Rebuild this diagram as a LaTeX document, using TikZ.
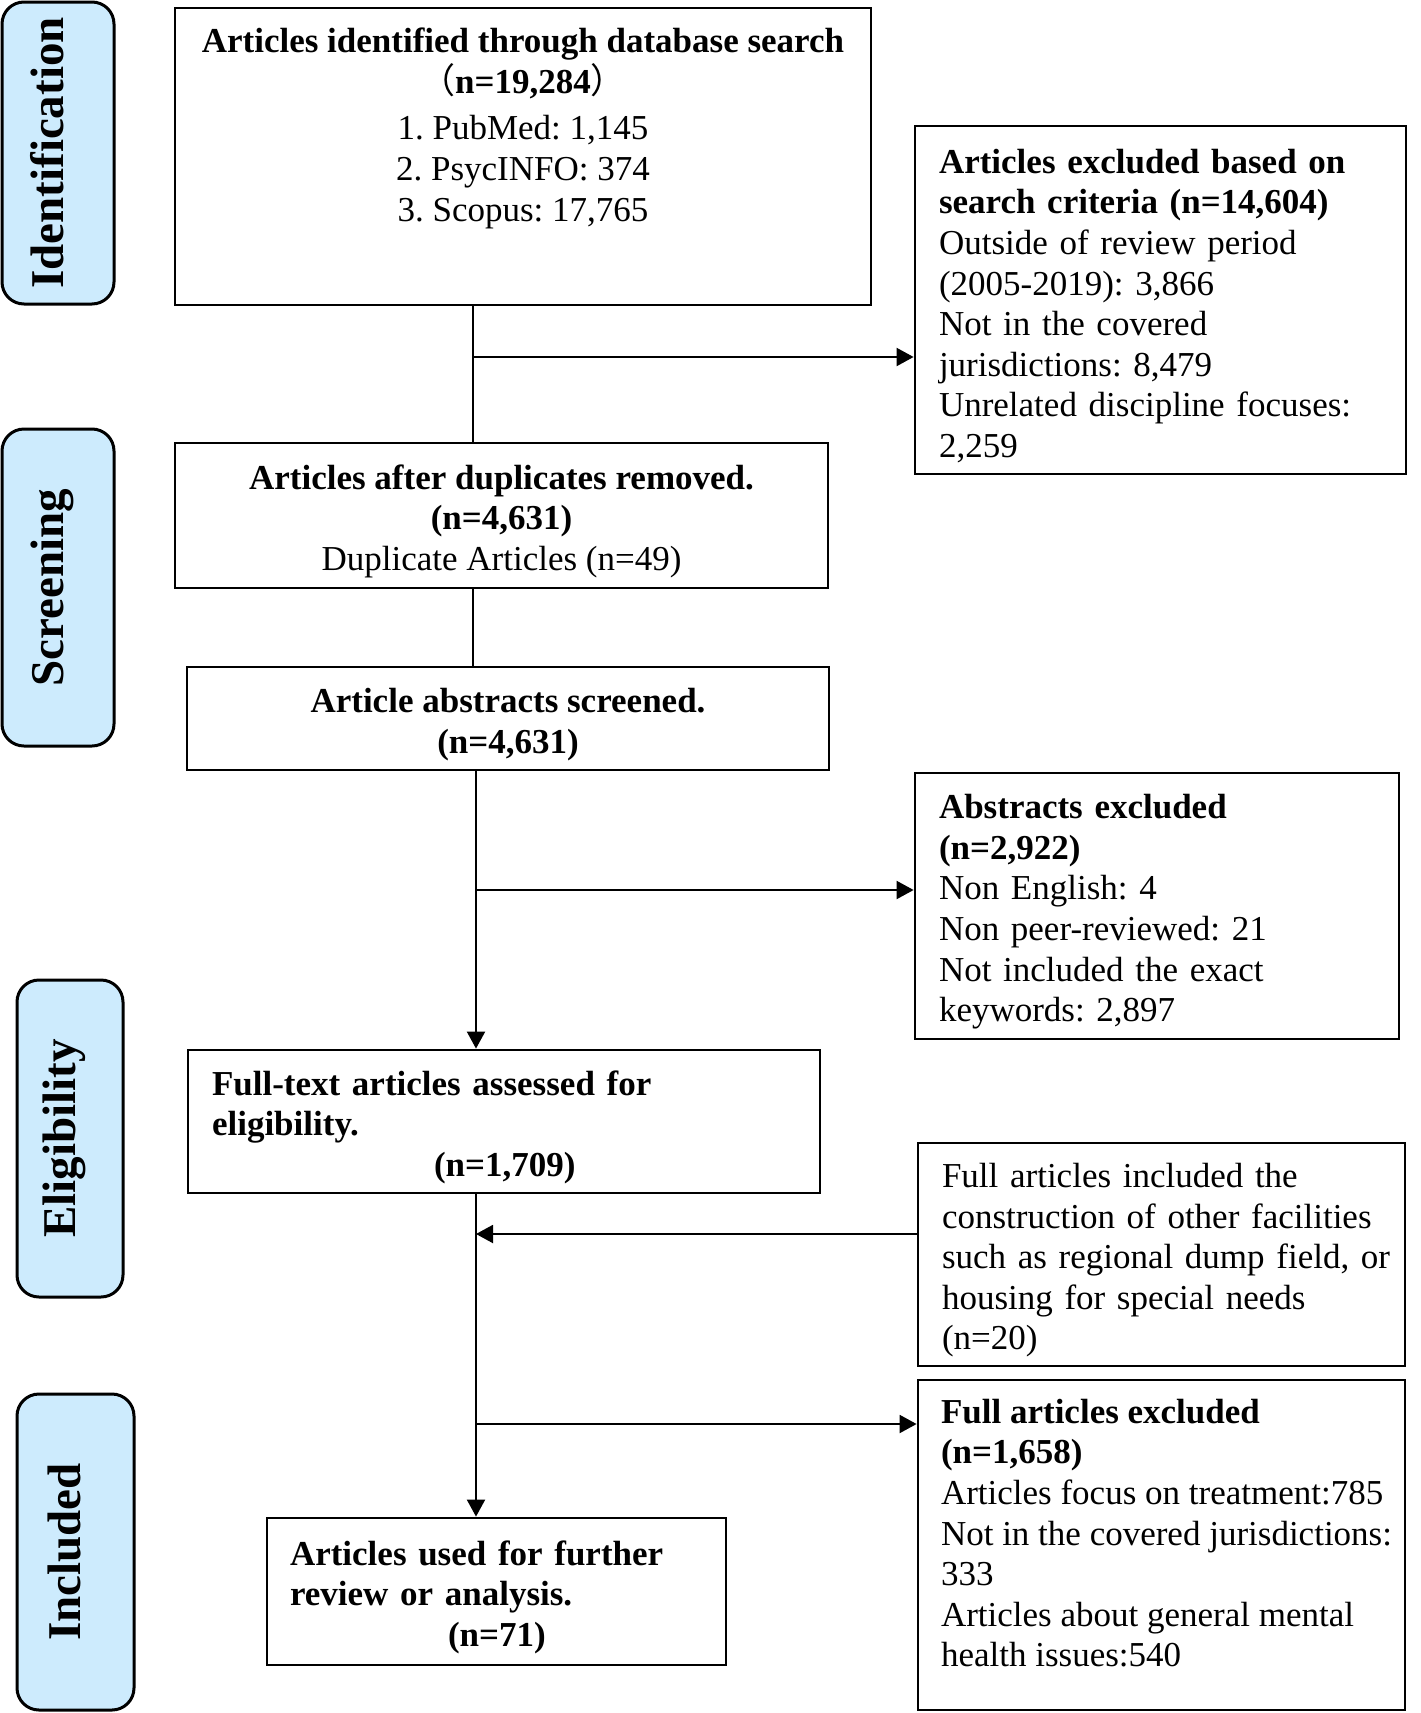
\documentclass[tikz,border=0pt]{standalone}
\usepackage{fontspec}
\setmainfont{Liberation Serif}
\newfontfamily\cjk{Noto Sans CJK SC}
\usetikzlibrary{arrows.meta,positioning}
\definecolor{pillblue}{RGB}{205,235,253}
\newcommand{\topstrut}{\rule{0pt}{18pt}}
\tikzset{box/.style={draw,line width=1.4pt,inner sep=0pt},
  sidebox/.style={box,inner xsep=12pt,align=left,execute at begin node={\topstrut}},
  stage/.style={draw,line width=1.5pt,rounded corners=11pt,fill=pillblue,rotate=90,inner sep=0pt,
    text height=17pt,text depth=12pt,font=\fontsize{23.5}{26}\selectfont\bfseries},
  conn/.style={line width=1pt},
  arr/.style={conn,-{Triangle[length=8.5pt,width=9pt]}}}

\begin{document}
\begin{tikzpicture}[x=0.5pt,y=-0.5pt,font=\fontsize{17.5}{20.3}\selectfont\frenchspacing]
\useasboundingbox (0,0) rectangle (1420,1713);
% stages
\node[stage,minimum width=151pt,minimum height=56pt] (sid) at (58,153) {Identification};
\node[stage,minimum width=158.5pt,minimum height=56pt] (sscr) at (58,587.5) {Screening};
\node[stage,minimum width=158.5pt,minimum height=53pt] (selig) at (70,1138.5) {Eligibility};
\node[stage,minimum width=158pt,minimum height=58.5pt] (sinc) at (75.5,1552) {Included};

% main column
\node[box,minimum width=348pt,minimum height=148.5pt] (ident) at (523,156.5) {};
\node[align=center,inner sep=0pt,anchor=north] (identtxt) at ([yshift=-10.5pt]ident.north)
  {\textbf{Articles identified through database search}\\
   {\cjk （}\textbf{n=19,284}{\cjk ）}\\[3pt]
   1. PubMed: 1,145\\ 2. PsycINFO: 374\\ 3. Scopus: 17,765};
\node[box,align=center,minimum width=326.5pt,minimum height=72.5pt] (dup) at (501.5,515.5)
  {\topstrut\textbf{Articles after duplicates removed.}\\ \textbf{(n=4,631)}\\ Duplicate Articles (n=49)};
\node[box,align=center,minimum width=321pt,minimum height=51.5pt] (abs) at (508,718.5)
  {\topstrut\textbf{Article abstracts screened.}\\ \textbf{(n=4,631)}};
\node[sidebox,text width=292pt,minimum height=71.5pt,font=\fontsize{17.5}{20.3}\selectfont\frenchspacing\bfseries] (full) at (504,1121.5)
  {Full-text articles assessed for\\ eligibility.\\ \hspace*{111pt}(n=1,709)};
\node[sidebox,inner xsep=11.5pt,text width=206.5pt,minimum height=73.5pt,font=\fontsize{17.5}{20.3}\selectfont\frenchspacing\bfseries] (used) at (496.5,1591.5)
  {Articles used for further\\ review or analysis.\\ \hspace*{79pt}(n=71)};

% exclusions
\node[sidebox,text width=221.5pt,minimum height=174pt] (excl1) at (1160.5,300)
  {\textbf{Articles excluded based on}\\ \textbf{search criteria (n=14,604)}\\
   Outside of review period\\ (2005-2019): 3,866\\ Not in the covered\\
   jurisdictions: 8,479\\ Unrelated discipline focuses:\\ 2,259};
\node[sidebox,text width=218pt,minimum height=133pt] (excl2) at (1157,906)
  {\textbf{Abstracts excluded}\\ \textbf{(n=2,922)}\\ Non English: 4\\
   Non peer-reviewed: 21\\ Not included the exact\\ keywords: 2,897};
\node[sidebox,text width=219.5pt,minimum height=111.5pt] (excl3) at (1161.5,1254.5)
  {Full articles included the\\ \mbox{construction of other facilities}\\
   \mbox{such as regional dump field, or}\\ housing for special needs\\ (n=20)};
\node[box,minimum width=243.5pt,minimum height=165pt] (excl4) at (1161.5,1545) {};
\node[align=left,inner sep=0pt,anchor=north west] (excl4txt) at ([xshift=12pt,yshift=-10pt]excl4.north west)
  {\textbf{Full articles excluded}\\ \textbf{(n=1,658)}\\ Articles focus on treatment:785\\
   Not in the covered jurisdictions:\\ 333\\ Articles about general mental\\ health issues:540};

% connectors
\coordinate (j1) at (473,357);
\coordinate (j2) at (476,890);
\coordinate (j3) at (476,1234);
\coordinate (j4) at (476,1424);
\draw[conn] (ident.south -| j1) -- (dup.north -| j1);
\draw[arr] (j1) -- (j1 -| excl1.west);
\draw[conn] (dup.south -| j1) -- (abs.north -| j1);
\draw[arr] (abs.south -| j2) -- (full.north -| j2);
\draw[arr] (j2) -- (j2 -| excl2.west);
\draw[arr] (full.south -| j3) -- (used.north -| j3);
\draw[arr] (excl3.west |- j3) -- (j3);
\draw[arr] (j4) -- (j4 -| excl4.west);
\end{tikzpicture}
\end{document}
